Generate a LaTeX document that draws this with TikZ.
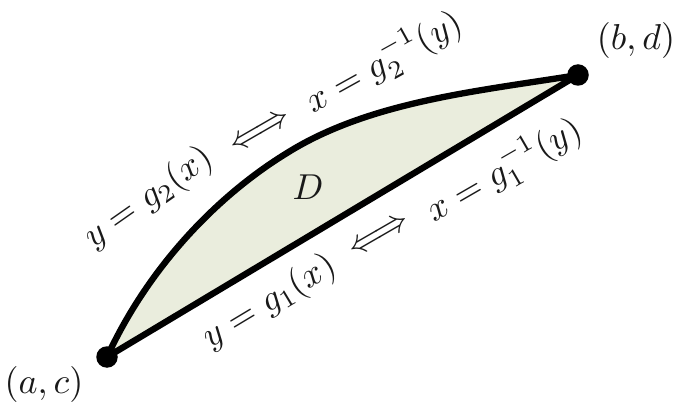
\documentclass[tikz,border=0pt]{standalone}
\usetikzlibrary{positioning}
\definecolor{sage}{RGB}{234,237,221}
\definecolor{ink}{RGB}{25,25,25}
\tikzset{
  edge/.style={draw=black,line width=3.6pt,line join=round},
  region/.style={edge,fill=sage},
  dot/.style={circle,fill=black,inner sep=0pt,minimum size=4.3mm},
  lab/.style={text=ink,inner sep=0.5pt,scale=2.05},
}

\begin{document}
\begin{tikzpicture}
  \useasboundingbox (0,0) rectangle (13.48,8.08);
  \coordinate (A) at (2.14,0.94);
  \coordinate (M) at (5.74,5.02);
  \coordinate (B) at (11.56,6.58);
  % the region D
  \filldraw[region] (A) .. controls (3.0,2.8) and (4.4,4.2) .. (M)
    .. controls (7.40,6.06) and (9.6,6.26) .. (B) -- cycle;
  \node[dot] (ac) at (A) {};
  \node[dot] (bd) at (B) {};
  % corners
  \node[lab] (ptA) at (0.88,0.40) {$(a,c)$};
  \node[lab] (ptB) at (12.72,7.28) {$(b,d)$};
  \node[lab] (D) at (6.16,4.34) {$D$};
  % upper boundary
  \node[lab,rotate=35] (top1) at (2.98,4.12) {$y=g_2(x)$};
  \node[lab,rotate=30] (topiff) at (5.22,5.44) {$\Longleftrightarrow$};
  \node[lab,rotate=29] (top2) at (7.68,6.84) {$x=g_2^{-1}(y)$};
  % lower boundary
  \node[lab,rotate=31] (bot1) at (5.40,2.04) {$y=g_1(x)$};
  \node[lab,rotate=30] (botiff) at (7.60,3.36) {$\Longleftrightarrow$};
  \node[lab,rotate=30] (bot2) at (10.08,4.68) {$x=g_1^{-1}(y)$};
\end{tikzpicture}
\end{document}
